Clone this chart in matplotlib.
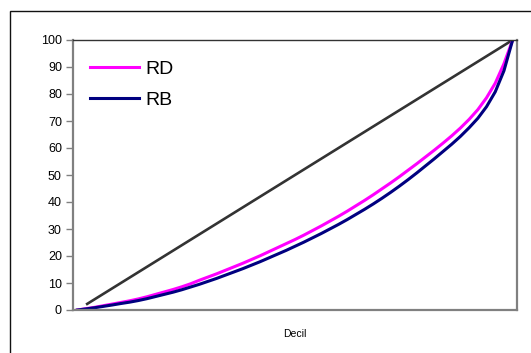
import matplotlib
matplotlib.use("Agg")
import matplotlib.pyplot as plt
from matplotlib.patches import Rectangle

plt.rcParams['font.family'] = ['Liberation Sans', 'DejaVu Sans']

# Data
pop = list(range(0, 101, 2))
rd = [0, 0.5, 1.0, 1.6, 2.2, 2.8, 3.4, 4.1, 4.9, 5.8, 6.7, 7.6, 8.6, 9.7,
      11.0, 12.2, 13.4, 14.7, 16.0, 17.3, 18.7, 20.1, 21.6, 23.1, 24.6, 26.1,
      27.7, 29.4, 31.1, 32.9, 34.7, 36.6, 38.6, 40.6, 42.7, 44.9, 47.1, 49.4,
      51.8, 54.2, 56.7, 59.2, 61.8, 64.5, 67.4, 70.6, 74.2, 78.6, 84.0, 91.2, 100]
rb = [0, 0.4, 0.85, 1.35, 1.85, 2.4, 2.9, 3.5, 4.2, 5.0, 5.8, 6.6, 7.5, 8.5,
      9.5, 10.6, 11.7, 12.9, 14.1, 15.3, 16.6, 17.9, 19.3, 20.7, 22.1, 23.6,
      25.1, 26.7, 28.3, 30.0, 31.7, 33.5, 35.4, 37.3, 39.3, 41.4, 43.6, 45.9,
      48.3, 50.8, 53.4, 56.0, 58.7, 61.4, 64.3, 67.5, 71.0, 75.3, 80.8, 88.6, 100]
eq_x = list(range(2, 101, 2))
eq_y = list(range(2, 101, 2))
yticks = list(range(0, 101, 10))

W, H = 531, 353
fig = plt.figure(figsize=(W / 100, H / 100), dpi=100)
fig.patch.set_facecolor('white')

# outer chart border (clipped at right/bottom)
fig.patches.append(Rectangle((10 / W, -0.1), 1.2, 1.1 - 11 / H,
                             transform=fig.transFigure, fill=False,
                             edgecolor='#111111', linewidth=1.0))

ax = fig.add_axes([73 / W, 1 - 310 / H, (517 - 73) / W, (310 - 40) / H])
ax.plot(eq_x, eq_y, color='#333333', linewidth=1.9, solid_capstyle='butt')
ax.plot(pop, rd, color='#FF00FF', linewidth=2.2, label='RD')
ax.plot(pop, rb, color='#000080', linewidth=2.2, label='RB')

ax.set_xlim(-1, 101)
ax.set_ylim(0, 100)
ax.set_yticks(yticks)
ax.set_xticks([])
ax.tick_params(axis='y', direction='out', length=5, width=1, color='#808080',
               labelsize=9, pad=3)
ax.set_xlabel('Decil', fontsize=7.5, labelpad=14)

for s in ['left', 'bottom', 'right']:
    ax.spines[s].set_color('#808080')
    ax.spines[s].set_linewidth(1.6)
ax.spines['top'].set_color('#333333')
ax.spines['top'].set_linewidth(1.0)

leg = ax.legend(loc='upper left', bbox_to_anchor=(0.02, 0.955), frameon=False,
                fontsize=14, handlelength=2.55, handletextpad=0.3,
                labelspacing=0.7, borderaxespad=0.0)

fig.savefig('out.png', dpi=100)
